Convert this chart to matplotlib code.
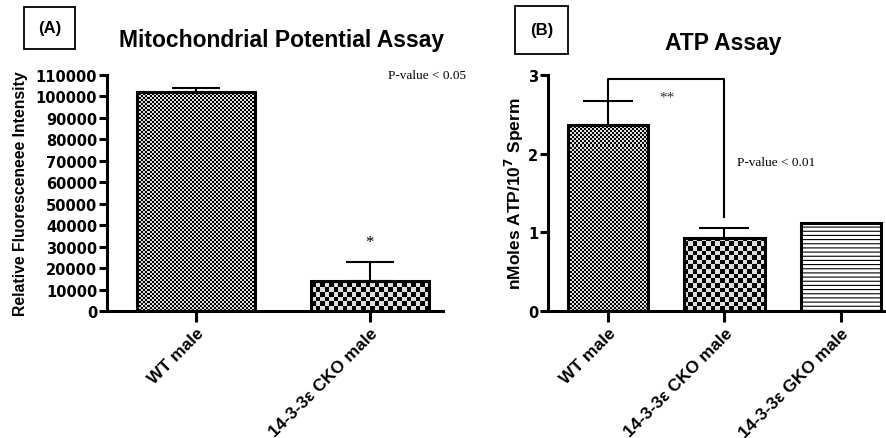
import numpy as np
import matplotlib.pyplot as plt
from matplotlib.patches import Rectangle

# panel A
groups_a = ['WT male', '14-3-3\u03b5 CKO male']
mito = [102000, 14000]
mito_err = [2000, 8800]

# panel B
groups_b = ['WT male', '14-3-3\u03b5 CKO male', '14-3-3\u03b5 GKO male']
atp = [2.37, 0.93]
atp_err = [0.30, 0.12]
atp_gko = 1.12

plt.rcParams['font.family'] = ['Liberation Sans', 'DejaVu Sans']
plt.rcParams['font.weight'] = 'bold'
plt.rcParams['axes.labelweight'] = 'bold'
plt.rcParams['hatch.linewidth'] = 0.8
plt.rcParams['hatch.color'] = '#333333'

fig = plt.figure(figsize=(8.87, 4.39), dpi=100)
ax1 = fig.add_axes([0.1206, 0.2893, 0.3788, 0.5376])
ax2 = fig.add_axes([0.6178, 0.2893, 0.3822, 0.5376])


def checker_bar(ax, bar, cells):
    # fill a bar with a checkerboard image clipped to the bar
    img = np.indices((400, 400)).sum(axis=0) % 2
    x0 = ax.get_xlim()[0]
    im = ax.imshow(img, cmap='gray_r', vmin=-0.15, vmax=1.0, interpolation='nearest',
                   extent=[x0, x0 + 400 * cells[0], 0, 400 * cells[1]],
                   aspect='auto', zorder=1)
    im.set_clip_path(bar)


def style(ax):
    for s in ['top', 'right']:
        ax.spines[s].set_visible(False)
    for s in ['left', 'bottom']:
        ax.spines[s].set_linewidth(2.2)
    ax.tick_params(axis='y', length=6, width=2.2, labelsize=10.5, pad=1)
    ax.tick_params(axis='x', length=8, width=2.2, labelsize=12.5, pad=2)
    for t in ax.get_yticklabels():
        t.set_family('DejaVu Sans')


# --- panel A
ax1.set_xlim(-0.51, 1.42)
ax1.set_ylim(0, 110000)
xa = np.arange(len(groups_a))
bars = ax1.bar(xa, mito, width=0.68, facecolor='none', edgecolor='black', linewidth=2.2, zorder=3)
ax1.errorbar(xa, mito, yerr=[[0, 0], mito_err], fmt='none', ecolor='black', elinewidth=1.5,
             capsize=17, capthick=1.5, zorder=2)
checker_bar(ax1, bars[0], (0.0115, 2.0 * 110000 / 236))
checker_bar(ax1, bars[1], (0.026, 4.6 * 110000 / 236))
ax1.set_xlim(-0.51, 1.42)
ax1.set_ylim(0, 110000)
ax1.set_yticks(np.arange(0, 110001, 10000))
ax1.set_xticks(xa)
ax1.set_xticklabels(groups_a, rotation=45, ha='right', rotation_mode='anchor')
ax1.set_ylabel('Relative Fluoresceneee Intensity', fontsize=11.3)
ax1.yaxis.set_label_coords(-0.235, 0.5)
style(ax1)
ax1.text(1, 32000, '*', ha='center', va='center', fontsize=12, fontweight='normal',
         family='Liberation Serif')
ax1.set_title('Mitochondrial Potential Assay', fontsize=16.5, fontweight='bold', pad=21, x=0.52)

# --- panel B
ax2.set_xlim(-0.52, 2.4)
ax2.set_ylim(0, 3)
xb = np.arange(len(groups_b))
bars_b = ax2.bar(xb[:2], atp, width=0.69, facecolor='none', edgecolor='black', linewidth=2.2, zorder=3)
bar_g = ax2.bar(xb[2], atp_gko, width=0.69, facecolor='white', edgecolor='black', linewidth=2.2,
                hatch='----', zorder=3)
ax2.errorbar(xb[:2], atp, yerr=[[0, 0], atp_err], fmt='none', ecolor='black', elinewidth=1.5,
             capsize=18, capthick=1.5, zorder=2)
checker_bar(ax2, bars_b[0], (0.0172, 2.0 * 3 / 236))
checker_bar(ax2, bars_b[1], (0.039, 4.6 * 3 / 236))
ax2.set_xlim(-0.52, 2.4)
ax2.set_ylim(0, 3)
ax2.set_yticks([0, 1, 2, 3])
ax2.set_xticks(xb)
ax2.set_xticklabels(groups_b, rotation=45, ha='right', rotation_mode='anchor')
ax2.set_ylabel('nMoles ATP/10$^{\\mathbf{7}}$ Sperm', fontsize=12.5)
ax2.yaxis.set_label_coords(-0.065, 0.5)
style(ax2)
# significance bracket
ax2.plot([0, 0, 1, 1], [atp[0] + atp_err[0], 2.95, 2.95, 1.2], color='black', lw=1.5,
         clip_on=False, zorder=4)
ax2.text(0.5, 2.72, '**', ha='center', va='center', fontsize=11, fontweight='normal',
         family='Liberation Serif', color='#333333')
ax2.text(1.11, 1.9, 'P-value < 0.01', ha='left', va='center', fontsize=9.5, fontweight='normal',
         family='Liberation Serif')
ax2.set_title('ATP Assay', fontsize=16.5, fontweight='bold', pad=19, x=0.516)

fig.text(0.437, 0.828, 'P-value < 0.05', ha='left', va='center', fontsize=9.5,
         fontweight='normal', family='Liberation Serif')

# panel label boxes
for (x0, y0, w, h, lab) in [(24, 8, 51, 42, '(A)'), (515, 7, 53, 48, '(B)')]:
    fig.patches.append(Rectangle((x0 / 887, 1 - (y0 + h) / 439), w / 887, h / 439,
                                 transform=fig.transFigure, fill=False, edgecolor='black', lw=1.3))
    fig.text((x0 + w / 2) / 887, 1 - (y0 + h / 2) / 439, lab, ha='center', va='center',
             fontsize=12, fontweight='bold')

fig.savefig('out.png', dpi=100)
